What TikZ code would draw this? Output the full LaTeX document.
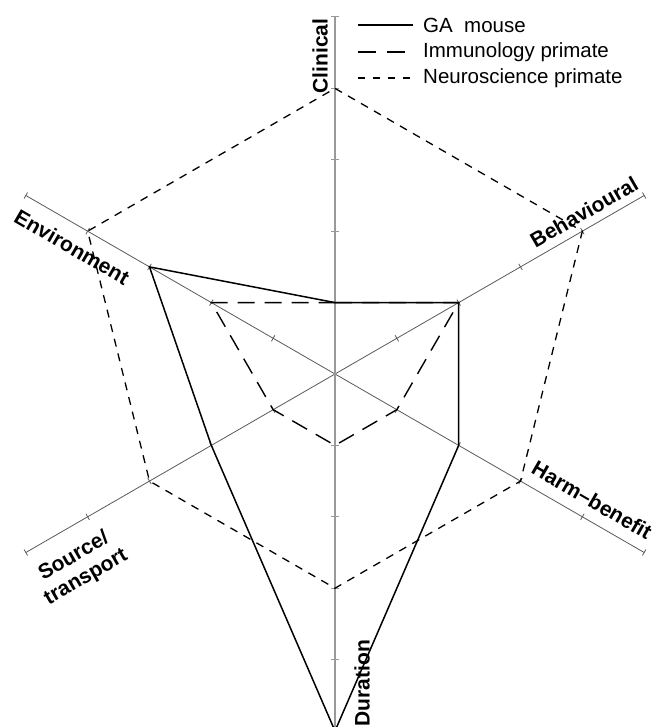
\documentclass[tikz,border=0pt]{standalone}
\usepackage{fontspec}
\setmainfont{Liberation Sans}
\usetikzlibrary{calc}
\begin{document}
\begin{tikzpicture}[x=1pt,y=1pt,
  axisline/.style={draw=black!65,line width=0.8pt},
  vaxis/.style={draw=black!40,line width=1.5pt},
  galine/.style={draw=black,line width=1.5pt,line join=miter},
  immline/.style={draw=black,line width=1.4pt,dash pattern=on 17pt off 10pt},
  neuline/.style={draw=black,line width=1.3pt,dash pattern=on 8pt off 7pt},
  axlabel/.style={font=\fontsize{21}{24}\selectfont\bfseries,inner sep=0pt},
  legtext/.style={font=\fontsize{20.5}{24}\selectfont,anchor=west,inner sep=0pt}]
\useasboundingbox (0,0) rectangle (662,727);
\clip (0,0) rectangle (662,727);
\coordinate (C) at (335,353);
\foreach \ang/\nm in {90/cl,30/be,-30/hb,-90/du,210/st,150/en}{
  \foreach \k in {1,...,5}{
    \coordinate (\nm-\k) at ($(C)+(\ang:\k*71.4pt)$);
  }
}
% diagonal axes
\draw[axisline] (en-5) -- (hb-5);
\draw[axisline] (st-5) -- (be-5);
\foreach \ang/\nm in {30/be,-30/hb,210/st,150/en}{
  \foreach \k in {1,...,5}{
    \draw[axisline] ($(\nm-\k)+(\ang+90:3.5pt)$) -- ($(\nm-\k)+(\ang-90:3.5pt)$);
  }
}
% vertical axis
\draw[vaxis] (cl-5) -- (du-5);
\foreach \k in {1,...,5}{
  \draw[draw=black!40,line width=1pt] ($(cl-\k)+(-4pt,0)$) -- ($(cl-\k)+(4pt,0)$);
  \draw[draw=black!40,line width=1pt] ($(du-\k)+(-4pt,0)$) -- ($(du-\k)+(4pt,0)$);
}
% series
\draw[neuline] (cl-4) -- (be-4) -- (hb-3) -- (du-3) -- (st-3) -- (en-4) -- cycle;
\draw[immline] (cl-1) -- (be-2) -- (hb-1) -- (du-1) -- (st-1) -- (en-2) -- cycle;
\draw[galine] (cl-1) -- (be-2) -- (hb-2) -- (du-5) -- (st-2) -- (en-3) -- cycle;
% axis labels
\node[axlabel,rotate=90] (lcl) at (320,671) {Clinical};
\node[axlabel,rotate=30] (lbe) at (584,515) {Behavioural};
\node[axlabel,rotate=-30] (lhb) at (592,227) {Harm–benefit};
\node[axlabel,rotate=90] (ldu) at (362,44) {Duration};
\node[axlabel,rotate=30,align=center] (lst) at (80,160) {Source/\\transport};
\node[axlabel,rotate=-30] (len) at (72,480) {Environment};
% legend
\node[legtext] (g1) at (423,702) {GA\ \ mouse};
\node[legtext] (g2) at (423,675) {Immunology primate};
\node[legtext] (g3) at (423,649) {Neuroscience primate};
\coordinate (s1) at (358,702);
\coordinate (s2) at (358,675);
\coordinate (s3) at (358,649);
\draw[draw=black,line width=1.3pt] (s1) -- ($(g1.west)+(-10pt,0)$);
\draw[draw=black,line width=1.3pt,dash pattern=on 18pt off 11pt] (s2) -- ($(g2.west)+(-16pt,0)$);
\draw[draw=black,line width=1.3pt,dash pattern=on 7pt off 8pt] (s3) -- ($(g3.west)+(-10pt,0)$);
\end{tikzpicture}
\end{document}
